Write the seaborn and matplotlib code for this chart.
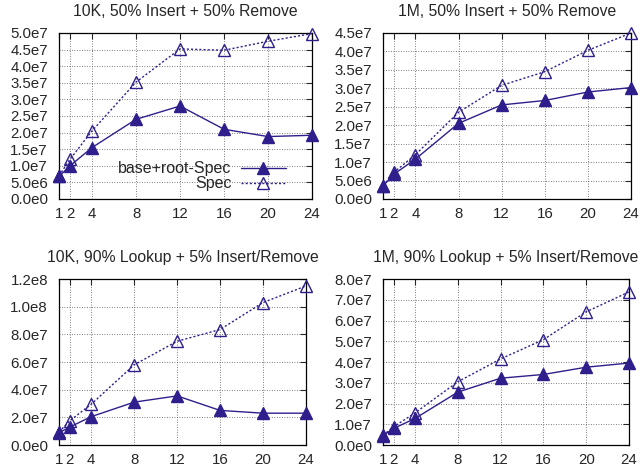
import pandas as pd
import matplotlib
matplotlib.use("Agg")
import matplotlib.pyplot as plt
from matplotlib.lines import Line2D
import seaborn as sns

threads = [1, 2, 4, 8, 12, 16, 20, 24]
series_names = ["base+root-Spec", "Spec"]

titles = [
    "10K, 50% Insert + 50% Remove",
    "1M, 50% Insert + 50% Remove",
    "10K, 90% Lookup + 5% Insert/Remove",
    "1M, 90% Lookup + 5% Insert/Remove",
]

# throughput values
base_10k_ir = [6.8e6, 1.0e7, 1.55e7, 2.4e7, 2.8e7, 2.1e7, 1.88e7, 1.92e7]
spec_10k_ir = [7.0e6, 1.2e7, 2.05e7, 3.52e7, 4.52e7, 4.48e7, 4.75e7, 4.98e7]
base_1m_ir = [3.5e6, 6.7e6, 1.08e7, 2.05e7, 2.55e7, 2.67e7, 2.9e7, 3.02e7]
spec_1m_ir = [3.6e6, 7.2e6, 1.2e7, 2.35e7, 3.08e7, 3.45e7, 4.03e7, 4.5e7]
base_10k_lk = [9.0e6, 1.3e7, 2.05e7, 3.1e7, 3.55e7, 2.5e7, 2.3e7, 2.3e7]
spec_10k_lk = [9.5e6, 1.75e7, 2.95e7, 5.8e7, 7.5e7, 8.35e7, 1.03e8, 1.15e8]
base_1m_lk = [4.5e6, 8.0e6, 1.28e7, 2.55e7, 3.22e7, 3.4e7, 3.75e7, 3.95e7]
spec_1m_lk = [4.7e6, 8.8e6, 1.55e7, 3.05e7, 4.15e7, 5.08e7, 6.42e7, 7.38e7]

y_ticks = [
    [0, 5e6, 1e7, 1.5e7, 2e7, 2.5e7, 3e7, 3.5e7, 4e7, 4.5e7, 5e7],
    [0, 5e6, 1e7, 1.5e7, 2e7, 2.5e7, 3e7, 3.5e7, 4e7, 4.5e7],
    [0, 2e7, 4e7, 6e7, 8e7, 1e8, 1.2e8],
    [0, 1e7, 2e7, 3e7, 4e7, 5e7, 6e7, 7e7, 8e7],
]

panels = [
    (base_10k_ir, spec_10k_ir),
    (base_1m_ir, spec_1m_ir),
    (base_10k_lk, spec_10k_lk),
    (base_1m_lk, spec_1m_lk),
]

sns.set_style("white")
plt.rcParams["font.family"] = ["Liberation Sans", "DejaVu Sans"]

color = "#2e1f8c"
dotted = (0, (1.5, 1.5))
fig = plt.figure(figsize=(6.42, 4.71), dpi=100)

# axes boxes in figure fractions
boxes = [
    [0.092, 0.5775, 0.394, 0.3525],
    [0.5966, 0.5775, 0.3864, 0.3525],
    [0.092, 0.0552, 0.3846, 0.3524],
    [0.5966, 0.0552, 0.3832, 0.3524],
]

for i, ((base, spec), title) in enumerate(zip(panels, titles)):
    ax = fig.add_axes(boxes[i])
    df = pd.DataFrame({
        "threads": threads * 2,
        "ops": base + spec,
        "impl": [series_names[0]] * len(threads) + [series_names[1]] * len(threads),
    })
    sns.lineplot(data=df, x="threads", y="ops", hue="impl", style="impl",
                 palette=[color, color], markers=["^", "^"], dashes=[(None, None), (1.5, 1.5)],
                 ax=ax, legend=False, linewidth=1.0, markersize=8)
    # filled triangles for base, open ones for Spec
    lines = ax.get_lines()
    for ln in lines:
        ln.set_markeredgecolor(color)
        ln.set_markeredgewidth(1.0)
        ln.set_clip_on(False)
        ln.set_zorder(3)
    lines[0].set_markerfacecolor(color)
    lines[1].set_markerfacecolor("none")

    ax.set_xlim(1, 24)
    ax.set_ylim(y_ticks[i][0], y_ticks[i][-1])
    ax.set_xticks(threads)
    ax.set_yticks(y_ticks[i])
    ax.set_yticklabels([("%.1e" % v).replace("e+0", "e").replace("e+", "e") for v in y_ticks[i]])
    ax.grid(True, color="#555555", linestyle=(0, (1, 2)), linewidth=0.6)
    ax.tick_params(direction="in", length=4, top=True, right=True, labelsize=10.8)
    ax.tick_params(axis="y", pad=8)
    ax.tick_params(axis="x", pad=6)
    for s in ax.spines.values():
        s.set_color("black")
        s.set_linewidth(0.9)
    ax.set_xlabel("")
    ax.set_ylabel("")
    ax.set_title(title, fontsize=11.3, pad=12)

    if i == 0:
        handles = [
            Line2D([], [], color=color, marker="^", markerfacecolor=color, markersize=8, linewidth=1.0),
            Line2D([], [], color=color, marker="^", markerfacecolor="none", markersize=8,
                   linewidth=1.0, linestyle=dotted),
        ]
        ax.legend(handles, series_names, loc="lower right", bbox_to_anchor=(0.94, -0.02),
                  frameon=False, markerfirst=False, fontsize=11.5, handlelength=2.8,
                  labelspacing=0.0, borderpad=0.2, handletextpad=0.6)

fig.savefig("out.png", dpi=100)
